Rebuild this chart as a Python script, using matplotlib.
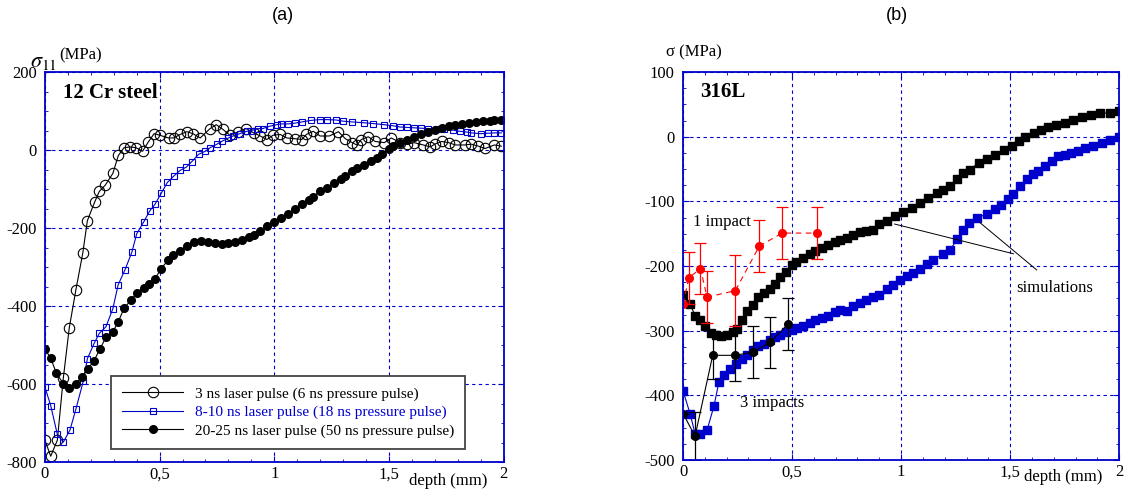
import matplotlib
matplotlib.use('Agg')
import matplotlib.pyplot as plt
from matplotlib.ticker import MultipleLocator

# ---- panel (a) : 12 Cr steel ----
a_open_x = [0, 0.025, 0.054, 0.08, 0.106, 0.135, 0.165, 0.185, 0.217, 0.237,
            0.263, 0.296, 0.32, 0.345, 0.371, 0.397, 0.426, 0.45, 0.476, 0.5,
            0.539, 0.561, 0.59, 0.619, 0.645, 0.677, 0.72, 0.747, 0.776, 0.806,
            0.844, 0.878, 0.91, 0.939, 0.968, 0.995, 1.026, 1.055, 1.09, 1.12,
            1.14, 1.17, 1.20, 1.24, 1.28, 1.31, 1.34, 1.36, 1.38, 1.41,
            1.44, 1.48, 1.51, 1.55, 1.58, 1.61, 1.65, 1.68, 1.70, 1.73,
            1.76, 1.79, 1.83, 1.86, 1.89, 1.92, 1.96, 1.99]
a_open_y = [-744, -785, -744, -585, -456, -358, -264, -181, -133, -106,
            -90, -60, -14, 6, 8, 6, -3, 20, 42, 38,
            31, 31, 40, 47, 42, 31, 55, 65, 53, 38,
            47, 55, 44, 36, 27, 38, 40, 31, 29, 27,
            40, 48, 36, 36, 47, 29, 19, 13, 27, 34,
            22, 19, 31, 19, 15, 19, 13, 8, 15, 22,
            19, 13, 13, 15, 10, 4, 13, 10]

a_sq_x = [0, 0.025, 0.054, 0.08, 0.109, 0.135, 0.167, 0.185, 0.215, 0.237,
          0.266, 0.296, 0.319, 0.349, 0.379, 0.40, 0.43, 0.456, 0.48, 0.507,
          0.534, 0.563, 0.59, 0.616, 0.64, 0.67, 0.70, 0.72, 0.75, 0.77,
          0.80, 0.82, 0.85, 0.88, 0.90, 0.93, 0.95, 0.98, 1.01, 1.03,
          1.06, 1.09, 1.12, 1.16, 1.20, 1.23, 1.27, 1.30, 1.34, 1.39,
          1.43, 1.48, 1.52, 1.55, 1.58, 1.61, 1.64, 1.67, 1.71, 1.74,
          1.78, 1.81, 1.84, 1.86, 1.90, 1.93, 1.96, 1.99]
a_sq_y = [-608, -655, -729, -749, -718, -664, -593, -535, -495, -470,
          -453, -407, -346, -307, -262, -215, -185, -157, -139, -111,
          -83, -66, -52, -44, -30, -11, -3, 6, 15, 22,
          31, 36, 42, 48, 50, 55, 55, 61, 65, 67,
          67, 69, 72, 76, 78, 78, 77, 74, 72, 70,
          68, 65, 62, 59, 58, 57, 56, 55, 54, 53,
          51, 48, 46, 44, 42, 43, 44, 44]

a_dot_x = [0, 0.025, 0.05, 0.08, 0.106, 0.135, 0.16, 0.186, 0.214, 0.24,
           0.266, 0.296, 0.32, 0.346, 0.376, 0.40, 0.43, 0.455, 0.48, 0.507,
           0.536, 0.56, 0.59, 0.62, 0.65, 0.68, 0.71, 0.74, 0.77, 0.80,
           0.83, 0.86, 0.89, 0.91, 0.94, 0.97, 1.0, 1.03, 1.06, 1.09,
           1.12, 1.15, 1.17, 1.2, 1.23, 1.26, 1.29, 1.31, 1.34, 1.36,
           1.39, 1.42, 1.45, 1.47, 1.5, 1.52, 1.55, 1.58, 1.61, 1.64,
           1.67, 1.70, 1.73, 1.76, 1.79, 1.82, 1.85, 1.88, 1.91, 1.94,
           1.96, 1.99]
a_dot_y = [-510, -534, -572, -599, -610, -599, -582, -562, -540, -510,
           -480, -466, -440, -404, -385, -366, -353, -343, -330, -304,
           -283, -270, -258, -245, -236, -232, -235, -238, -240, -239,
           -236, -231, -224, -218, -208, -196, -185, -173, -164, -151,
           -139, -128, -120, -105, -97, -85, -75, -66, -55, -45,
           -38, -28, -20, -11, 2, 10, 19, 27, 33, 40,
           47, 52, 57, 61, 65, 67, 70, 73, 74, 75,
           76, 76]

a_labels = ['3 ns laser pulse (6 ns pressure pulse)',
            '8-10 ns laser pulse (18 ns pressure pulse)',
            '20-25 ns laser pulse (50 ns pressure pulse)']

# ---- panel (b) : 316L ----
b_blk_x = [0, 0.032, 0.055, 0.078, 0.10, 0.127, 0.15, 0.176, 0.203, 0.228,
           0.249, 0.269, 0.295, 0.32, 0.345, 0.37, 0.40, 0.42, 0.445, 0.472,
           0.498, 0.52, 0.55, 0.58, 0.605, 0.636, 0.667, 0.697, 0.72, 0.75,
           0.78, 0.81, 0.84, 0.87, 0.90, 0.934, 0.97, 1.01, 1.05, 1.087,
           1.125, 1.164, 1.19, 1.225, 1.255, 1.286, 1.317, 1.355, 1.393, 1.43,
           1.47, 1.51, 1.54, 1.57, 1.61, 1.64, 1.675, 1.71, 1.75, 1.79,
           1.83, 1.87, 1.91, 1.96, 2.0]
b_blk_y = [-244, -258, -277, -284, -293, -303, -307, -308, -306, -302,
           -297, -283, -270, -260, -248, -241, -235, -227, -217, -209,
           -199, -194, -188, -181, -176, -172, -168, -163, -160, -156,
           -152, -148, -146, -145, -135, -130, -122, -117, -110, -102,
           -94, -87, -82, -76, -66, -56, -51, -40, -35, -28,
           -20, -14, -7, 0, 6, 11, 15, 18, 21, 26,
           30, 34, 36, 37, 39]

b_blu_x = [0, 0.032, 0.055, 0.08, 0.11, 0.142, 0.164, 0.19, 0.216, 0.243,
           0.27, 0.295, 0.32, 0.345, 0.37, 0.40, 0.42, 0.445, 0.472, 0.498,
           0.524, 0.55, 0.58, 0.605, 0.636, 0.667, 0.697, 0.72, 0.75, 0.78,
           0.81, 0.84, 0.87, 0.90, 0.934, 0.965, 0.995, 1.026, 1.056, 1.087,
           1.118, 1.148, 1.19, 1.225, 1.258, 1.283, 1.31, 1.347, 1.393, 1.43,
           1.46, 1.49, 1.515, 1.546, 1.577, 1.604, 1.63, 1.66, 1.69, 1.72,
           1.75, 1.78, 1.81, 1.845, 1.88, 1.92, 1.96, 2.0]
b_blu_y = [-393, -428, -459, -459, -454, -416, -380, -369, -359, -351,
           -344, -337, -330, -324, -320, -314, -310, -306, -302, -299,
           -296, -292, -288, -284, -281, -277, -271, -268, -269, -261,
           -257, -253, -248, -245, -236, -230, -222, -216, -210, -204,
           -197, -190, -182, -175, -158, -145, -133, -125, -120, -112,
           -105, -97, -88, -76, -66, -58, -53, -46, -38, -30,
           -28, -25, -22, -17, -14, -10, -5, 0]

one_x = [0, 0.027, 0.08, 0.11, 0.24, 0.35, 0.455, 0.613]
one_y = [-258, -218, -204, -248, -238, -169, -149, -149]
one_err = [0, 40, 39, 40, 55, 40, 40, 40]

three_x = [0, 0.055, 0.136, 0.24, 0.32, 0.40, 0.483]
three_y = [-428, -463, -338, -338, -333, -318, -289]
three_err = [0, 37, 37, 39, 40, 39, 40]

x_ticks = [0, 0.5, 1, 1.5, 2]
x_tick_labels = ['0', '0,5', '1', '1,5', '2']

BLUE = '#0000cc'


def style_axes(ax, ymin, ymax, ystep, yminor):
    ax.set_xlim(0, 2)
    ax.set_ylim(ymin, ymax)
    ax.set_xticks(x_ticks)
    ax.set_xticklabels(x_tick_labels)
    yt = list(range(ymin, ymax + 1, ystep))
    ax.set_yticks(yt)
    ax.set_yticklabels([str(v) for v in yt])
    ax.xaxis.set_minor_locator(MultipleLocator(0.1))
    ax.yaxis.set_minor_locator(MultipleLocator(yminor))
    ax.grid(True, color=BLUE, linestyle=(0, (3, 3)), linewidth=0.8)
    ax.set_axisbelow(True)
    for s in ax.spines.values():
        s.set_color(BLUE)
        s.set_linewidth(1.3)
    ax.tick_params(which='both', direction='in', top=True, right=True,
                   color=BLUE, labelsize=12)
    ax.tick_params(axis='x', pad=3)
    ax.tick_params(axis='y', pad=6)
    ax.tick_params(which='major', length=4)
    ax.tick_params(which='minor', length=2)


def main():
    plt.rcParams['font.family'] = ['Liberation Serif', 'DejaVu Serif']
    plt.rcParams['mathtext.fontset'] = 'stix'
    plt.rcParams['axes.unicode_minus'] = False

    fig = plt.figure(figsize=(11.24, 4.9), dpi=100)
    ax1 = fig.add_axes([0.040, 0.057, 0.408, 0.796])
    ax2 = fig.add_axes([0.6077, 0.061, 0.388, 0.792])

    # (a)
    style_axes(ax1, -800, 200, 200, 50)
    ax1.plot(a_open_x, a_open_y, '-o', color='black', lw=0.8, ms=7.5,
             mfc='none', mew=0.8, label=a_labels[0])
    ax1.plot(a_sq_x, a_sq_y, '-s', color=BLUE, lw=0.8, ms=5,
             mfc='none', mew=0.8, label=a_labels[1])
    ax1.plot(a_dot_x, a_dot_y, '-o', color='black', lw=0.8, ms=5.5,
             label=a_labels[2])
    leg = ax1.legend(loc='lower left', bbox_to_anchor=(0.128, 0.015),
                     fontsize=11, handlelength=4, fancybox=False,
                     framealpha=1, edgecolor='#444444', borderpad=0.7,
                     labelspacing=0.3)
    leg.get_frame().set_linewidth(1.3)
    leg.get_texts()[1].set_color(BLUE)
    ax1.text(0.04, 0.945, '12 Cr steel', transform=ax1.transAxes,
             fontsize=15, fontweight='bold', va='center')
    ax1.text(-0.032, 1.025, r'$\sigma_{11}$', transform=ax1.transAxes,
             fontsize=16, ha='left', va='center')
    ax1.text(0.032, 1.042, '(MPa)', transform=ax1.transAxes,
             fontsize=12, ha='left', va='center')
    ax1.set_xlabel('depth (mm)', fontsize=12)
    ax1.xaxis.set_label_coords(0.88, -0.028)
    fig.text(283 / 1124, 1 - 16 / 490, '(a)', fontsize=13,
             family='Liberation Sans', ha='center', va='center')

    # (b)
    style_axes(ax2, -500, 100, 100, 25)
    ax2.plot(b_blk_x, b_blk_y, '-s', color='black', lw=0.8, ms=6)
    ax2.plot(b_blu_x, b_blu_y, '-s', color=BLUE, lw=0.8, ms=6)
    ax2.errorbar(one_x, one_y, yerr=one_err, fmt='o', color='red', ms=5.5,
                 elinewidth=0.9, capsize=4, capthick=0.9, ls=(0, (5, 4)),
                 lw=0.8)
    ax2.errorbar(three_x, three_y, yerr=three_err, fmt='o', color='black',
                 ms=5.5, elinewidth=0.9, capsize=4, capthick=0.9, ls='-',
                 lw=0.8)
    ax2.text(0.046, -132, '1 impact', fontsize=12, va='center')
    ax2.text(0.26, -412, '3 impacts', fontsize=12, va='center')
    ax2.text(1.53, -234, 'simulations', fontsize=12, va='center')
    ax2.plot([0.97, 1.515], [-135, -181], color='black', lw=0.7)
    ax2.plot([1.362, 1.622], [-133, -206], color='black', lw=0.7)
    ax2.text(-0.038, 1.05, 'σ (MPa)', transform=ax2.transAxes,
             fontsize=12, ha='left', va='center')
    ax2.text(0.04, 0.948, '316L', transform=ax2.transAxes,
             fontsize=15, fontweight='bold', va='center')
    ax2.set_xlabel('depth (mm)', fontsize=12)
    ax2.xaxis.set_label_coords(0.872, -0.024)
    fig.text(897 / 1124, 1 - 16 / 490, '(b)', fontsize=13,
             family='Liberation Sans', ha='center', va='center')

    fig.savefig('out.png', dpi=100)


if __name__ == '__main__':
    main()
